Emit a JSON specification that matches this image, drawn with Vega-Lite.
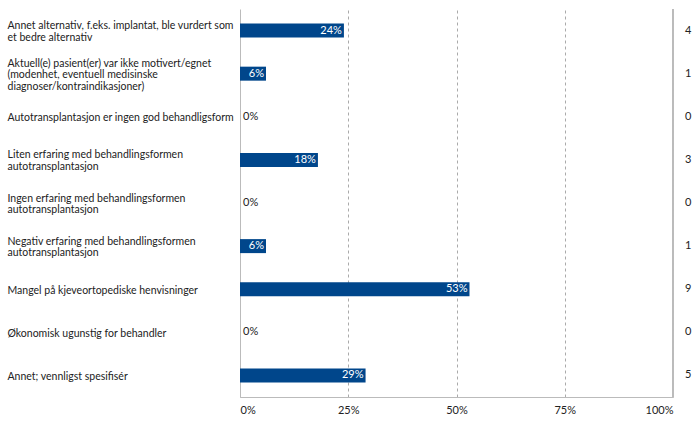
{
  "$schema": "https://vega.github.io/schema/vega-lite/v6.json",
  "width": 433,
  "height": 388,
  "autosize": "none",
  "padding": {"left": 240, "top": 9, "right": 27, "bottom": 24},
  "background": "white",
  "config": {
    "view": {"stroke": null},
    "font": "Lato",
    "axis": {"labelFont": "Lato", "labelFontSize": 11, "labelColor": "#222"}
  },
  "data": {
    "values": [
      {"label": "Annet alternativ, f.eks. implantat, ble vurdert som|et bedre alternativ", "share": 0.24, "n": 4},
      {"label": "Aktuell(e) pasient(er) var ikke motivert/egnet|(modenhet, eventuell medisinske|diagnoser/kontraindikasjoner)", "share": 0.06, "n": 1},
      {"label": "Autotransplantasjon er ingen god behandligsform", "share": 0, "n": 0},
      {"label": "Liten erfaring med behandlingsformen|autotransplantasjon", "share": 0.18, "n": 3},
      {"label": "Ingen erfaring med behandlingsformen|autotransplantasjon", "share": 0, "n": 0},
      {"label": "Negativ erfaring med behandlingsformen|autotransplantasjon", "share": 0.06, "n": 1},
      {"label": "Mangel på kjeveortopediske henvisninger", "share": 0.53, "n": 9},
      {"label": "Økonomisk ugunstig for behandler", "share": 0, "n": 0},
      {"label": "Annet; vennligst spesifisér", "share": 0.29, "n": 5}
    ]
  },
  "encoding": {
    "y": {
      "field": "label", "type": "nominal", "sort": null, "title": null,
      "axis": {
        "labelExpr": "split(datum.value, '|')",
        "labelAlign": "left",
        "labelPadding": 233,
        "labelLimit": 400,
        "labelFontSize": 10.5,
        "labelLineHeight": 11.7,
        "labelOffset": {
          "condition": [
            {"test": "length(split(datum.value, '|')) == 3", "value": -10},
            {"test": "length(split(datum.value, '|')) == 2", "value": -4.5}
          ],
          "value": 1.5
        },
        "ticks": false,
        "domain": true,
        "domainColor": "#bbbbbb",
        "grid": false
      }
    }
  },
  "layer": [
    {
      "mark": {"type": "bar", "height": 14, "color": "#00468b"},
      "encoding": {
        "x": {
          "field": "share", "type": "quantitative",
          "scale": {"domain": [0, 1]},
          "title": null,
          "axis": {
            "values": [0, 0.25, 0.5, 0.75, 1],
            "format": ".0%",
            "labelFlush": true,
            "ticks": false,
            "domainColor": "#bbbbbb",
            "labelPadding": 7,
            "grid": true,
            "gridDash": [3, 3],
            "gridColor": "#aaaaaa"
          }
        }
      }
    },
    {
      "mark": {"type": "rule", "color": "#bbbbbb"},
      "encoding": {"x": {"datum": 1, "type": "quantitative"}, "y": null}
    },
    {
      "transform": [{"filter": "datum.share > 0"}],
      "mark": {"type": "text", "align": "right", "dx": -2, "color": "white", "fontSize": 11, "baseline": "middle"},
      "encoding": {
        "x": {"field": "share", "type": "quantitative"},
        "text": {"field": "share", "format": ".0%"}
      }
    },
    {
      "transform": [{"filter": "datum.share == 0"}],
      "mark": {"type": "text", "align": "left", "dx": 3, "color": "#222", "fontSize": 11, "baseline": "middle"},
      "encoding": {
        "x": {"field": "share", "type": "quantitative"},
        "text": {"field": "share", "format": ".0%"}
      }
    },
    {
      "mark": {"type": "text", "align": "center", "color": "#222", "fontSize": 11, "baseline": "middle"},
      "encoding": {
        "x": {"datum": 1.035, "type": "quantitative"},
        "text": {"field": "n"}
      }
    }
  ]
}
